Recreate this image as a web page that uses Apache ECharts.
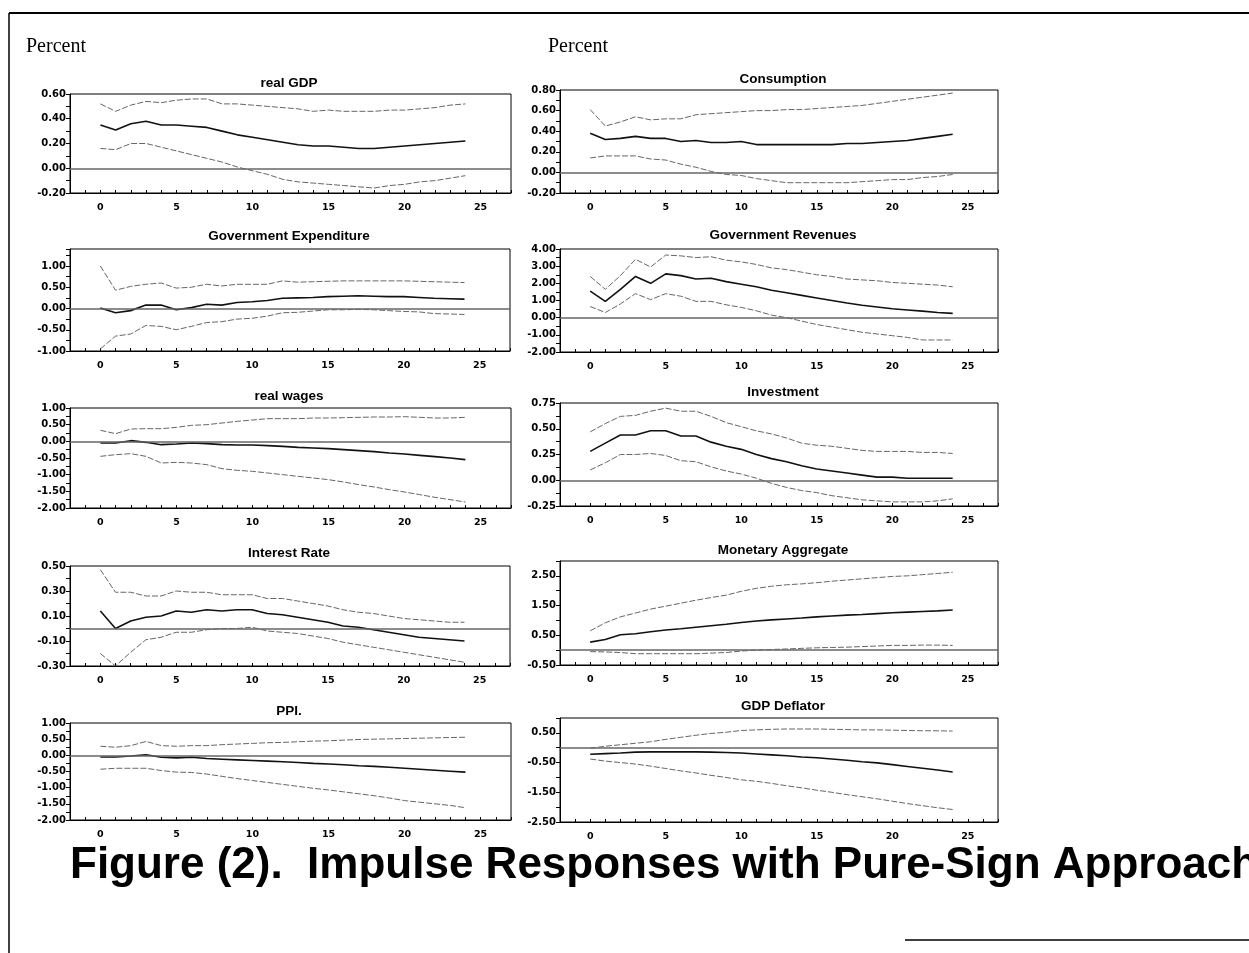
<!DOCTYPE html>
<html>
<head>
<meta charset="utf-8">
<script src="https://cdn.jsdelivr.net/npm/echarts@6/dist/echarts.min.js"></script>
<style>
  html, body { margin: 0; padding: 0; background: #fff; }
  #chart { width: 1249px; height: 953px; }
</style>
</head>
<body>
<div id="chart"></div>
<script>
// Forecast horizon (periods after the shock)
const periods = [0, 1, 2, 3, 4, 5, 6, 7, 8, 9, 10, 11, 12, 13, 14, 15, 16, 17, 18, 19, 20, 21, 22, 23, 24];

// Panel titles, in reading order (left column, right column, row by row)
const panelTitles = [
  'real GDP', 'Consumption',
  'Government Expenditure', 'Government Revenues',
  'real wages', 'Investment',
  'Interest Rate', 'Monetary Aggregate',
  'PPI.', 'GDP Deflator'
];

// Y-axis ranges and labelled tick steps per panel
const yMin  = [-0.20, -0.20, -1.00, -2.00, -2.00, -0.25, -0.30, -0.50, -2.00, -2.50];
const yMax  = [ 0.60,  0.80,  1.40,  4.00,  1.00,  0.75,  0.50,  3.00,  1.00,  1.00];
const yStep = [ 0.20,  0.20,  0.50,  1.00,  0.50,  0.25,  0.20,  1.00,  0.50,  1.00];

// Impulse responses: median (mid), upper and lower bands
const realGdpMid = [0.35, 0.31, 0.36, 0.38, 0.35, 0.35, 0.34, 0.33, 0.30, 0.27, 0.25, 0.23, 0.21, 0.19, 0.18, 0.18, 0.17, 0.16, 0.16, 0.17, 0.18, 0.19, 0.20, 0.21, 0.22];
const realGdpUp  = [0.52, 0.46, 0.51, 0.54, 0.53, 0.55, 0.56, 0.56, 0.52, 0.52, 0.51, 0.50, 0.49, 0.48, 0.46, 0.47, 0.46, 0.46, 0.46, 0.47, 0.47, 0.48, 0.49, 0.51, 0.52];
const realGdpLo  = [0.16, 0.15, 0.20, 0.20, 0.17, 0.14, 0.11, 0.08, 0.05, 0.01, -0.02, -0.05, -0.09, -0.11, -0.12, -0.13, -0.14, -0.15, -0.16, -0.14, -0.13, -0.11, -0.10, -0.08, -0.06];

const consMid = [0.38, 0.32, 0.33, 0.35, 0.33, 0.33, 0.30, 0.31, 0.29, 0.29, 0.30, 0.27, 0.27, 0.27, 0.27, 0.27, 0.27, 0.28, 0.28, 0.29, 0.30, 0.31, 0.33, 0.35, 0.37];
const consUp  = [0.61, 0.45, 0.49, 0.54, 0.51, 0.52, 0.52, 0.56, 0.57, 0.58, 0.59, 0.60, 0.60, 0.61, 0.61, 0.62, 0.63, 0.64, 0.65, 0.67, 0.69, 0.71, 0.73, 0.75, 0.77];
const consLo  = [0.14, 0.16, 0.16, 0.16, 0.13, 0.12, 0.08, 0.05, 0.01, -0.02, -0.03, -0.06, -0.08, -0.10, -0.10, -0.10, -0.10, -0.10, -0.09, -0.08, -0.07, -0.07, -0.05, -0.04, -0.02];

const govExpMid = [0.01, -0.10, -0.05, 0.08, 0.08, -0.03, 0.02, 0.10, 0.08, 0.14, 0.16, 0.19, 0.24, 0.25, 0.26, 0.28, 0.29, 0.30, 0.29, 0.28, 0.28, 0.26, 0.24, 0.23, 0.22];
const govExpUp  = [1.00, 0.43, 0.52, 0.57, 0.60, 0.48, 0.50, 0.57, 0.53, 0.57, 0.57, 0.57, 0.65, 0.62, 0.63, 0.64, 0.65, 0.65, 0.65, 0.65, 0.65, 0.64, 0.63, 0.62, 0.61];
const govExpLo  = [-0.95, -0.65, -0.60, -0.40, -0.42, -0.50, -0.42, -0.33, -0.31, -0.25, -0.23, -0.18, -0.10, -0.09, -0.06, -0.03, -0.03, -0.02, -0.03, -0.05, -0.07, -0.08, -0.12, -0.13, -0.14];

const govRevMid = [1.55, 0.95, 1.65, 2.40, 2.00, 2.55, 2.45, 2.25, 2.30, 2.10, 1.95, 1.80, 1.60, 1.45, 1.30, 1.15, 1.00, 0.85, 0.72, 0.62, 0.52, 0.45, 0.38, 0.30, 0.25];
const govRevUp  = [2.40, 1.65, 2.45, 3.40, 2.95, 3.65, 3.60, 3.50, 3.55, 3.35, 3.25, 3.10, 2.90, 2.80, 2.65, 2.50, 2.40, 2.25, 2.20, 2.15, 2.05, 2.00, 1.95, 1.90, 1.80];
const govRevLo  = [0.65, 0.30, 0.80, 1.40, 1.05, 1.40, 1.25, 0.95, 0.95, 0.75, 0.60, 0.40, 0.15, 0.00, -0.20, -0.40, -0.55, -0.70, -0.85, -0.95, -1.05, -1.15, -1.30, -1.30, -1.30];

const wagesMid = [-0.05, -0.05, 0.02, -0.03, -0.10, -0.08, -0.05, -0.07, -0.10, -0.11, -0.11, -0.13, -0.15, -0.18, -0.20, -0.22, -0.25, -0.28, -0.31, -0.35, -0.38, -0.42, -0.46, -0.50, -0.55];
const wagesUp  = [0.33, 0.23, 0.37, 0.38, 0.38, 0.42, 0.48, 0.50, 0.55, 0.60, 0.64, 0.68, 0.68, 0.68, 0.70, 0.70, 0.71, 0.72, 0.73, 0.73, 0.74, 0.72, 0.70, 0.70, 0.72];
const wagesLo  = [-0.45, -0.40, -0.37, -0.45, -0.65, -0.63, -0.65, -0.70, -0.82, -0.87, -0.90, -0.95, -1.00, -1.05, -1.10, -1.15, -1.22, -1.30, -1.37, -1.45, -1.52, -1.60, -1.68, -1.75, -1.82];

const investMid = [0.28, 0.36, 0.44, 0.44, 0.48, 0.48, 0.43, 0.43, 0.37, 0.33, 0.30, 0.25, 0.21, 0.18, 0.14, 0.11, 0.09, 0.07, 0.05, 0.03, 0.03, 0.02, 0.02, 0.02, 0.02];
const investUp  = [0.47, 0.55, 0.62, 0.63, 0.67, 0.70, 0.67, 0.67, 0.62, 0.56, 0.52, 0.48, 0.45, 0.41, 0.36, 0.34, 0.33, 0.31, 0.29, 0.28, 0.28, 0.28, 0.27, 0.27, 0.26];
const investLo  = [0.10, 0.17, 0.25, 0.25, 0.26, 0.24, 0.19, 0.18, 0.13, 0.09, 0.06, 0.02, -0.03, -0.07, -0.10, -0.12, -0.15, -0.17, -0.19, -0.20, -0.21, -0.21, -0.21, -0.20, -0.18];

const rateMid = [0.14, 0.00, 0.06, 0.09, 0.10, 0.14, 0.13, 0.15, 0.14, 0.15, 0.15, 0.12, 0.11, 0.09, 0.07, 0.05, 0.02, 0.01, -0.01, -0.03, -0.05, -0.07, -0.08, -0.09, -0.10];
const rateUp  = [0.47, 0.29, 0.29, 0.26, 0.26, 0.30, 0.29, 0.29, 0.27, 0.27, 0.27, 0.24, 0.24, 0.22, 0.20, 0.18, 0.15, 0.13, 0.12, 0.10, 0.08, 0.07, 0.06, 0.05, 0.05];
const rateLo  = [-0.20, -0.30, -0.19, -0.09, -0.07, -0.03, -0.03, -0.01, 0.00, 0.00, 0.01, -0.02, -0.03, -0.04, -0.06, -0.08, -0.11, -0.13, -0.15, -0.17, -0.19, -0.21, -0.23, -0.25, -0.27];

const moneyMid = [0.27, 0.36, 0.52, 0.55, 0.62, 0.68, 0.72, 0.77, 0.82, 0.87, 0.93, 0.98, 1.02, 1.05, 1.08, 1.12, 1.15, 1.18, 1.20, 1.23, 1.26, 1.28, 1.30, 1.32, 1.35];
const moneyUp  = [0.65, 0.92, 1.12, 1.25, 1.38, 1.48, 1.58, 1.68, 1.77, 1.85, 1.98, 2.08, 2.15, 2.20, 2.23, 2.27, 2.32, 2.36, 2.40, 2.44, 2.48, 2.50, 2.54, 2.58, 2.62];
const moneyLo  = [-0.05, -0.06, -0.08, -0.12, -0.12, -0.12, -0.12, -0.12, -0.10, -0.08, -0.03, 0.00, 0.02, 0.04, 0.06, 0.08, 0.09, 0.10, 0.12, 0.14, 0.16, 0.16, 0.17, 0.17, 0.16];

const ppiMid = [-0.05, -0.05, -0.02, 0.02, -0.06, -0.08, -0.06, -0.10, -0.12, -0.14, -0.16, -0.18, -0.20, -0.22, -0.25, -0.27, -0.29, -0.32, -0.34, -0.37, -0.40, -0.43, -0.46, -0.49, -0.52];
const ppiUp  = [0.28, 0.25, 0.30, 0.43, 0.30, 0.28, 0.30, 0.30, 0.33, 0.35, 0.37, 0.39, 0.40, 0.42, 0.44, 0.45, 0.47, 0.49, 0.50, 0.51, 0.52, 0.53, 0.54, 0.55, 0.56];
const ppiLo  = [-0.43, -0.40, -0.40, -0.40, -0.47, -0.52, -0.53, -0.58, -0.65, -0.72, -0.78, -0.84, -0.90, -0.96, -1.02, -1.07, -1.13, -1.19, -1.25, -1.32, -1.40, -1.45, -1.50, -1.55, -1.62];

const deflMid = [-0.22, -0.20, -0.18, -0.15, -0.14, -0.14, -0.14, -0.14, -0.15, -0.16, -0.18, -0.21, -0.24, -0.27, -0.31, -0.34, -0.38, -0.42, -0.47, -0.51, -0.57, -0.63, -0.69, -0.75, -0.82];
const deflUp  = [-0.02, 0.05, 0.10, 0.15, 0.20, 0.28, 0.35, 0.42, 0.48, 0.52, 0.58, 0.60, 0.62, 0.63, 0.63, 0.63, 0.62, 0.61, 0.60, 0.60, 0.59, 0.58, 0.57, 0.57, 0.56];
const deflLo  = [-0.38, -0.45, -0.50, -0.55, -0.62, -0.70, -0.78, -0.85, -0.93, -1.00, -1.08, -1.13, -1.20, -1.28, -1.35, -1.43, -1.50, -1.58, -1.65, -1.72, -1.80, -1.88, -1.95, -2.02, -2.08];

const midSeries = [realGdpMid, consMid, govExpMid, govRevMid, wagesMid, investMid, rateMid, moneyMid, ppiMid, deflMid];
const upSeries  = [realGdpUp, consUp, govExpUp, govRevUp, wagesUp, investUp, rateUp, moneyUp, ppiUp, deflUp];
const loSeries  = [realGdpLo, consLo, govExpLo, govRevLo, wagesLo, investLo, rateLo, moneyLo, ppiLo, deflLo];

// Plot boxes (pixels): [left, top, width, height]
const boxes = [
  [70, 94, 441, 99],  [560, 90, 438, 103],
  [70, 249, 440, 102], [560, 249, 438, 103],
  [70, 408, 441, 100], [560, 403, 438, 103],
  [70, 566, 440, 100], [560, 561, 438, 104],
  [70, 723, 441, 97],  [560, 718, 438, 104]
];
// vertical centre of each panel heading
const titleY = [80, 76, 233, 232, 393, 389, 550, 547, 708, 703];

const chart = echarts.init(document.getElementById('chart'), null, { renderer: 'canvas' });

const grids = [], xAxes = [], yAxes = [], series = [], titles = [];

boxes.forEach((b, i) => {
  grids.push({
    left: b[0], top: b[1], width: b[2], height: b[3],
    show: true, borderColor: '#000', borderWidth: 1, backgroundColor: 'transparent'
  });
  xAxes.push({
    type: 'value', gridIndex: i, min: -2, max: 27, interval: 1,
    axisLine: { show: true, onZero: false, lineStyle: { color: '#000', width: 1 } },
    axisTick: { show: true, inside: true, length: 3, lineStyle: { color: '#000' } },
    axisLabel: {
      show: true, margin: 10, color: '#000',
      fontFamily: 'DejaVu Sans', fontSize: 9.5, fontWeight: 'bold',
      formatter: v => (v >= 0 && Math.abs(v % 5) < 1e-9) ? String(v) : ''
    },
    splitLine: { show: false }
  });
  const mn = yMin[i], st = yStep[i];
  yAxes.push({
    type: 'value', gridIndex: i, min: mn, max: yMax[i], interval: st / 2,
    axisLine: { show: true, onZero: false, lineStyle: { color: '#000', width: 1 } },
    axisTick: { show: true, inside: false, length: 4, lineStyle: { color: '#000' } },
    axisLabel: {
      show: true, margin: 4, color: '#000',
      fontFamily: 'DejaVu Sans', fontSize: 10, fontWeight: 'bold',
      formatter: v => {
        const k = (v - mn) / st;
        if (Math.abs(k - Math.round(k)) > 1e-6) return '';
        return Math.abs(v) < 1e-9 ? '0.00' : v.toFixed(2);
      }
    },
    splitLine: { show: false }
  });
  const pts = arr => periods.map((t, k) => [t, arr[k]]);
  series.push({
    type: 'line', xAxisIndex: i, yAxisIndex: i, data: pts(midSeries[i]),
    symbol: 'none', z: 3,
    lineStyle: { color: '#111', width: 1.6 },
    markLine: {
      silent: true, symbol: ['none', 'none'], label: { show: false },
      lineStyle: { color: '#666', width: 1.5, type: 'solid' },
      data: [{ yAxis: 0 }], animation: false
    }
  });
  series.push({
    type: 'line', xAxisIndex: i, yAxisIndex: i, data: pts(upSeries[i]),
    symbol: 'none', z: 2,
    lineStyle: { color: '#666', width: 1, type: [6, 2] }
  });
  series.push({
    type: 'line', xAxisIndex: i, yAxisIndex: i, data: pts(loSeries[i]),
    symbol: 'none', z: 2,
    lineStyle: { color: '#666', width: 1, type: [6, 2] }
  });
  titles.push({
    text: panelTitles[i],
    left: (i % 2 === 0) ? 284 : 778, top: titleY[i] - 9,
    textAlign: 'center',
    textStyle: { fontFamily: 'Liberation Sans', fontSize: 13.5, fontWeight: 'bold', color: '#000' }
  });
});

const option = {
  animation: false,
  backgroundColor: '#fff',
  title: titles,
  grid: grids,
  xAxis: xAxes,
  yAxis: yAxes,
  series: series,
  graphic: [
    // page frame
    { type: 'line', shape: { x1: 9, y1: 13, x2: 9, y2: 953 }, style: { stroke: '#000', lineWidth: 1.5 } },
    { type: 'line', shape: { x1: 9, y1: 13, x2: 1249, y2: 13 }, style: { stroke: '#000', lineWidth: 2 } },
    { type: 'line', shape: { x1: 905, y1: 940, x2: 1249, y2: 940 }, style: { stroke: '#000', lineWidth: 1.5 } },
    // unit labels
    { type: 'text', left: 26, top: 37, style: { text: 'Percent', font: '20px "Liberation Serif"', fill: '#000' } },
    { type: 'text', left: 548, top: 37, style: { text: 'Percent', font: '20px "Liberation Serif"', fill: '#000' } },
    // figure caption
    { type: 'text', x: 70, y: 866, style: { text: 'Figure (2).  Impulse Responses with Pure-Sign Approach', font: 'bold 44px "Liberation Sans"', fill: '#000', verticalAlign: 'middle' } }
  ]
};

chart.setOption(option);
</script>
</body>
</html>
